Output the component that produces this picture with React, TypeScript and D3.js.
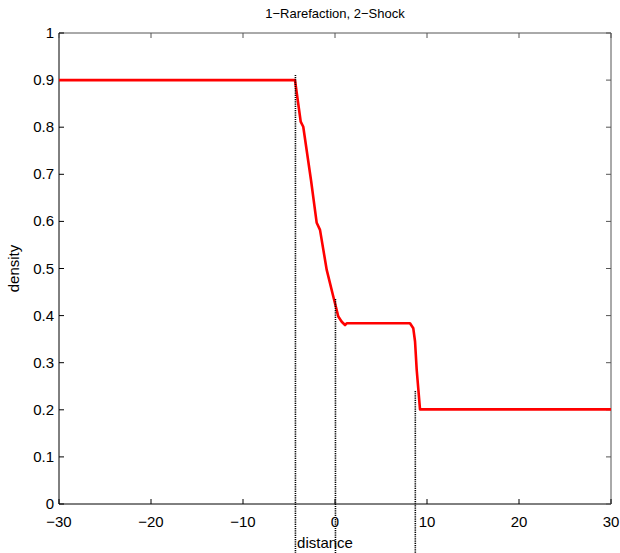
import React from "react";
import * as d3 from "d3";

const xTicks = [-30, -20, -10, 0, 10, 20, 30];
const yTicks = [0, 0.1, 0.2, 0.3, 0.4, 0.5, 0.6, 0.7, 0.8, 0.9, 1];

const curveX = [-30, -4.35, -3.73, -3.45, -2.61, -1.99, -1.63, -0.9, -0.18, 0.36, 0.73, 1.09, 1.27, 8.15, 8.51, 8.7, 8.88, 9.24, 30];
const curveY = [0.9, 0.9, 0.812, 0.801, 0.688, 0.597, 0.582, 0.497, 0.44, 0.398, 0.387, 0.38, 0.3837, 0.3837, 0.373, 0.345, 0.285, 0.201, 0.201];

const markerX = [-4.3, 0.05, 8.73];
const markerTop = [0.911, 0.435, 0.24];
const markerBottom = -0.11;

const W = 620, H = 553;
const L = 59, R = 611, T = 33, B = 504;

export default function App() {
  const x = d3.scaleLinear().domain([-30, 30]).range([L, R]);
  const y = d3.scaleLinear().domain([0, 1]).range([B, T]);
  const line = d3.line<number>().x((_, i) => x(curveX[i])).y((_, i) => y(curveY[i]));
  const font = "Liberation Sans, Arial, sans-serif";
  const fmt = (v: number) => (v < 0 ? "\u2212" + Math.abs(v) : String(v));
  return (
    <svg width={W} height={H} style={{ position: "absolute", left: 0, top: 0, background: "#fff" }} fontFamily={font}>
      <rect x={0} y={0} width={W} height={H} fill="#fff" />
      <line x1={L} x2={R} y1={T} y2={T} stroke="#555" strokeWidth={1} />
      <line x1={R} x2={R} y1={T} y2={B} stroke="#555" strokeWidth={1} />
      <line x1={L} x2={L} y1={T} y2={B} stroke="#000" strokeWidth={1} />
      <line x1={L} x2={R} y1={B} y2={B} stroke="#000" strokeWidth={1} />
      {xTicks.map((t) => (
        <g key={"x" + t}>
          <line x1={x(t)} x2={x(t)} y1={B} y2={B - 5} stroke="#000" />
          <line x1={x(t)} x2={x(t)} y1={T} y2={T + 5} stroke="#555" />
          <text x={x(t)} y={527} fontSize={15} textAnchor="middle" fill="#000">{fmt(t)}</text>
        </g>
      ))}
      {yTicks.map((t) => (
        <g key={"y" + t}>
          <line x1={L} x2={L + 5} y1={y(t)} y2={y(t)} stroke="#000" />
          <line x1={R} x2={R - 5} y1={y(t)} y2={y(t)} stroke="#555" />
          <text x={54} y={y(t) + 5} fontSize={15} textAnchor="end" fill="#000">{t}</text>
        </g>
      ))}
      <path d={line(curveX) || ""} fill="none" stroke="#ff0000" strokeWidth={2.6} strokeLinejoin="round" />
      {markerX.map((m, i) => (
        <line key={"m" + i} x1={x(m)} x2={x(m)} y1={y(markerTop[i])} y2={y(markerBottom)} stroke="#000" strokeWidth={1.6} strokeDasharray="1.2 1" />
      ))}
      <text x={335} y={18} fontSize={13} textAnchor="middle" fill="#000">1−Rarefaction, 2−Shock</text>
      <text x={325} y={548} fontSize={15} textAnchor="middle" fill="#000">distance</text>
      <text transform={`translate(19,${(T + B) / 2}) rotate(-90)`} fontSize={15} textAnchor="middle" fill="#000">density</text>
    </svg>
  );
}
